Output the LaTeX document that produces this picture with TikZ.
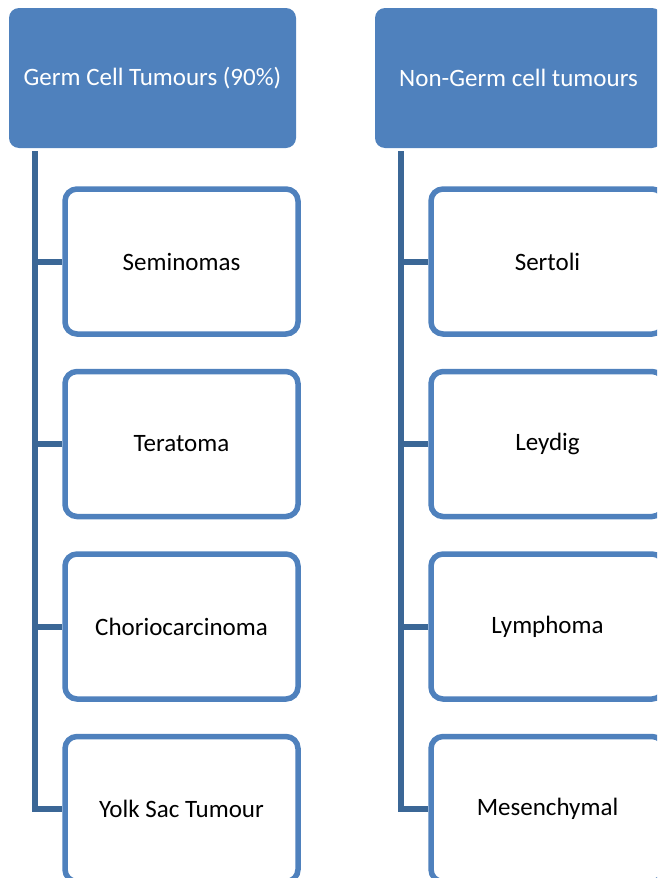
\documentclass[tikz,border=0pt]{standalone}
\usepackage{fontspec}
\setmainfont{Carlito}
\definecolor{accent}{HTML}{4F81BD}
\definecolor{trunkc}{HTML}{3B6796}
\begin{document}
\begin{tikzpicture}[x=1pt,y=-1pt,
  hdr/.style={fill=accent,draw=none,rounded corners=10pt,minimum width=287pt,minimum height=140pt,text=white,font=\fontsize{25}{30}\selectfont,inner sep=0pt},
  child/.style={draw=accent,line width=5.5pt,fill=white,rounded corners=12pt,minimum width=233pt,minimum height=145pt,text=black,font=\fontsize{25}{30}\selectfont,inner sep=0pt},
  conn/.style={draw=trunkc,line width=6pt,line join=miter}]
\useasboundingbox (0,0) rectangle (657,878);
\clip (0,0) rectangle (657,878);
\node[hdr] (hL) at (152.5,78) {Germ Cell Tumours (90\%)};
\node[hdr] (hR) at (518.5,78) {Non-Germ cell tumours};
\coordinate (tL) at ([xshift=26.5pt,yshift=-3pt]hL.south west);
\coordinate (tR) at ([xshift=26.3pt,yshift=-3pt]hR.south west);
\node[child] (L1) at (181.5,261.5) {Seminomas};
\node[child] (L2) at (181.5,444) {Teratoma};
\node[child] (L3) at (181.5,626.5) {Choriocarcinoma};
\node[child] (L4) at (181.5,809) {Yolk Sac Tumour};
\node[child] (R1) at (547.5,261.5) {Sertoli};
\node[child] (R2) at (547.5,444) {Leydig};
\node[child] (R3) at (547.5,626.5) {Lymphoma};
\node[child] (R4) at (547.5,809) {Mesenchymal};
\draw[conn] (tL) |- (L4.west);
\draw[conn] (tR) |- (R4.west);
\foreach \n in {L1,L2,L3}{\draw[conn] (\n.west) -- (\n.west -| tL);}
\foreach \n in {R1,R2,R3}{\draw[conn] (\n.west) -- (\n.west -| tR);}
\end{tikzpicture}
\end{document}
